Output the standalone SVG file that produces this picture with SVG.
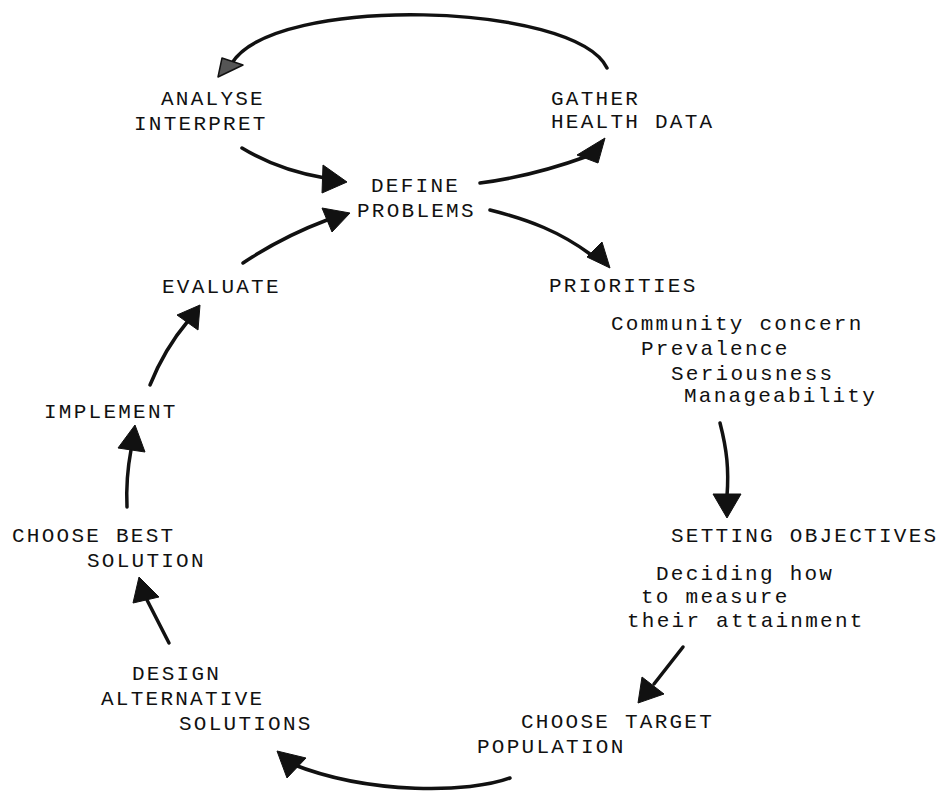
<svg xmlns="http://www.w3.org/2000/svg" width="940" height="792" viewBox="0 0 940 792">
<style>
  text { font-family: "Liberation Mono", "DejaVu Sans Mono", monospace; font-size: 21px; letter-spacing: 2.25px; fill: #111; }
  .line { fill: none; stroke: #111; stroke-width: 3.5; stroke-linecap: round; }
  .head { fill: #111; stroke: #111; stroke-width: 1; stroke-linejoin: round; }
  .head-faint { fill: #555; stroke: #111; stroke-width: 1.5; stroke-linejoin: round; }
</style>
<rect width="940" height="792" fill="#fff"/>

<g id="connectors">
  <!-- top arc: GATHER -> ANALYSE -->
  <path class="line" d="M607,68 C575,2 275,-6 232,63"/>
  <polygon class="head-faint" points="218,77 243,65 222,58"/>
  <!-- ANALYSE -> DEFINE -->
  <path class="line" d="M242,148 C265,162 295,173 325,178"/>
  <polygon class="head" points="347,182 323,165 322,193"/>
  <!-- DEFINE -> GATHER -->
  <path class="line" d="M480,183 C520,178 555,168 588,156"/>
  <polygon class="head" points="605,138 577,155 598,163"/>
  <!-- EVALUATE -> DEFINE -->
  <path class="line" d="M243,263 C270,245 295,232 327,220"/>
  <polygon class="head" points="350,213 322,208 332,232"/>
  <!-- DEFINE -> PRIORITIES -->
  <path class="line" d="M490,210 C530,220 560,232 590,254"/>
  <polygon class="head" points="610,268 587,257 602,242"/>
  <!-- PRIORITIES -> SETTING OBJECTIVES -->
  <path class="line" d="M720,423 C727,450 729,470 727,496"/>
  <polygon class="head" points="727,518 713,494 741,494"/>
  <!-- SETTING OBJECTIVES -> CHOOSE TARGET -->
  <path class="line" d="M683,647 L654,684"/>
  <polygon class="head" points="638,703 642,677 664,694"/>
  <!-- CHOOSE TARGET -> DESIGN -->
  <path class="line" d="M510,778 C470,793 370,795 292,764"/>
  <polygon class="head" points="277,751 287,778 306,758"/>
  <!-- DESIGN -> CHOOSE BEST -->
  <path class="line" d="M169,643 L147,600"/>
  <polygon class="head" points="139,577 133,603 159,597"/>
  <!-- CHOOSE BEST -> IMPLEMENT -->
  <path class="line" d="M127,507 C126,485 128,466 131,450"/>
  <polygon class="head" points="135,425 118,448 145,452"/>
  <!-- IMPLEMENT -> EVALUATE -->
  <path class="line" d="M150,385 C160,360 172,340 188,321"/>
  <polygon class="head" points="200,305 177,315 198,330"/>
</g>

<g id="analyse">
  <text x="161" y="105">ANALYSE</text>
  <text x="134" y="130">INTERPRET</text>
</g>
<g id="gather">
  <text x="551" y="105">GATHER</text>
  <text x="551" y="128">HEALTH DATA</text>
</g>
<g id="define">
  <text x="371" y="192">DEFINE</text>
  <text x="357" y="217">PROBLEMS</text>
</g>
<g id="priorities">
  <text x="549" y="292">PRIORITIES</text>
  <text x="611" y="330">Community concern</text>
  <text x="641" y="355">Prevalence</text>
  <text x="671" y="380">Seriousness</text>
  <text x="684" y="402">Manageability</text>
</g>
<g id="setting-objectives">
  <text x="671" y="542">SETTING OBJECTIVES</text>
  <text x="656" y="580">Deciding how</text>
  <text x="641" y="603">to measure</text>
  <text x="627" y="627">their attainment</text>
</g>
<g id="choose-target">
  <text x="521" y="728">CHOOSE TARGET</text>
  <text x="477" y="753">POPULATION</text>
</g>
<g id="design">
  <text x="132" y="680">DESIGN</text>
  <text x="101" y="705">ALTERNATIVE</text>
  <text x="179" y="730">SOLUTIONS</text>
</g>
<g id="choose-best">
  <text x="12" y="542">CHOOSE BEST</text>
  <text x="87" y="567">SOLUTION</text>
</g>
<g id="implement">
  <text x="44" y="418">IMPLEMENT</text>
</g>
<g id="evaluate">
  <text x="162" y="293">EVALUATE</text>
</g>
</svg>
